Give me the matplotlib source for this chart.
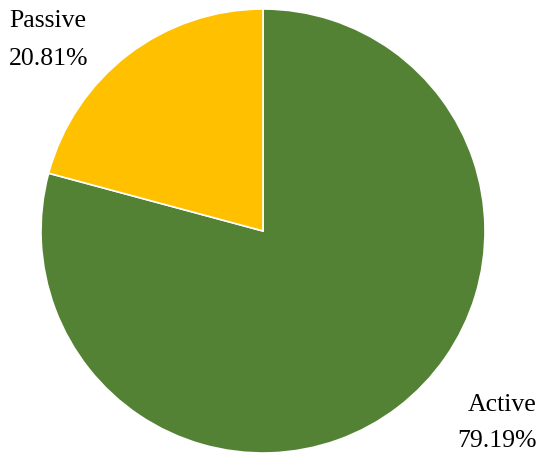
import matplotlib.pyplot as plt

labels = ['Active', 'Passive']
shares = [79.19, 20.81]
colors = ['#548235', '#FFC000']

plt.rc('font', family=['Liberation Serif', 'DejaVu Serif'])

fig = plt.figure(figsize=(5.38, 4.55), dpi=100)
ax = fig.add_axes([0, 0, 1, 1])

ax.pie(shares, colors=colors, startangle=90, counterclock=False,
       center=(263, 224), radius=222,
       wedgeprops=dict(edgecolor='white', linewidth=1.2))

# pie() resets the view, so fix the pixel-like limits afterwards.
ax.set_xlim(0, 538)
ax.set_ylim(0, 455)
ax.set_aspect('equal')
ax.axis('off')

# Labels sit outside the pie, in the corners.
ax.text(9, 434, labels[1], fontsize=18.5, ha='left', va='center')
ax.text(9, 396, f'{shares[1]:.2f}%', fontsize=18.5, ha='left', va='center')
ax.text(537, 50, labels[0], fontsize=18.5, ha='right', va='center')
ax.text(537, 14, f'{shares[0]:.2f}%', fontsize=18.5, ha='right', va='center')

plt.savefig('out.png', dpi=100)
